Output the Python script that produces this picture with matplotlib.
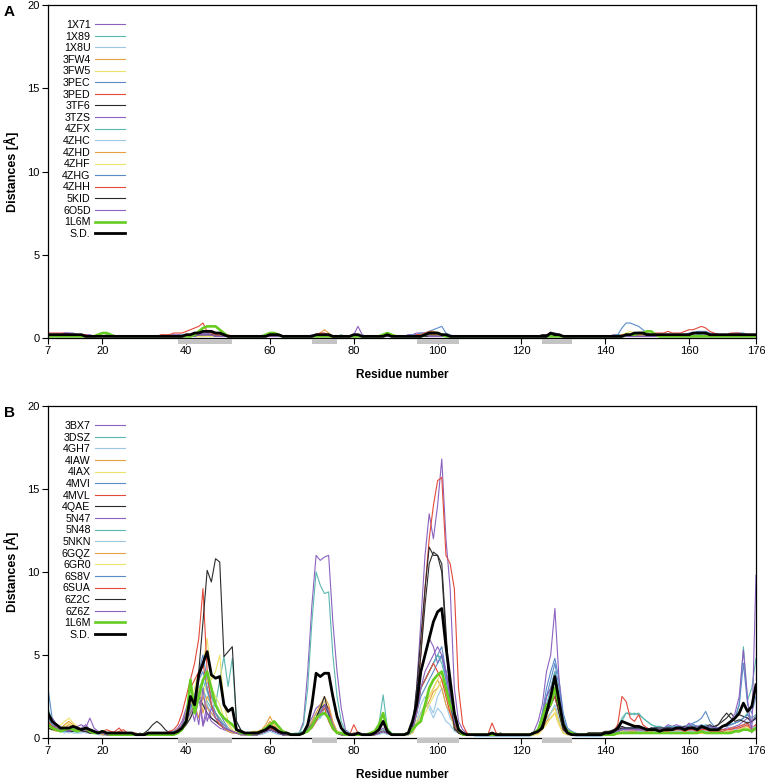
import matplotlib
matplotlib.use("Agg")
import matplotlib.pyplot as plt
from matplotlib.patches import Rectangle
import numpy as np

plt.rcParams['font.family'] = ['Liberation Sans', 'DejaVu Sans']

residues = np.arange(7, 177)
x_ticks = [7, 20, 40, 60, 80, 100, 120, 140, 160, 176]
y_ticks = [0, 5, 10, 15, 20]
# grey boxes under the x axis (start, end residue)
regions = [(38, 51), (70, 76), (95, 105), (125, 132)]

cycle = ['#8c62c0', '#5bb8b0', '#9cc8e6', '#e6a040', '#ece36a', '#5b8cc8', '#e34a3a', '#2b2b2b']

# ---- panel A, distances in tenths of an angstrom, residues 7..176 ----
A_names = ['1X71', '1X89', '1X8U', '3FW4', '3FW5', '3PEC', '3PED', '3TF6', '3TZS',
           '4ZFX', '4ZHC', '4ZHD', '4ZHF', '4ZHG', '4ZHH', '5KID', '6O5D']
A_1X71 = [2,2,2,2,3,3,3,2,2,2, 2,1,1,1,2,1,1,1,1,1, 1,1,1,1,1,1,1,1,1,2, 2,2,2,2,2,3,3,3,3,3, 2,2,2,1,1,1,1,1,1,1, 1,1,2,2,2,1,1,1,1,1, 1,1,1,2,2,2,2,2,1,1, 1,1,1,1,2,1,1,1,1,1, 1,1,1,1,1,1,2,2,3,3,
          3,3,3,3,2,2,1,1,1,1, 1,1,1,1,1,1,1,1,1,1, 1,1,1,1,1,1,1,1,2,2, 2,2,1,1,1,1,1,1,1,1, 1,1,1,1,1,2,2,2,2,2, 2,2,2,1,1,2,2,2,2,2, 2,2,2,2,2,3,3,2,2,1, 1,2,2,2,2,2,2,2,2,2]
A_1X89 = [2,1,1,1,2,1,1,2,1,1, 1,1,1,1,1,1,1,1,1,1, 1,1,1,1,1,1,1,1,1,1, 1,1,2,2,2,2,2,2,2,2, 2,2,1,1,1,1,1,1,1,1, 1,1,1,2,1,1,1,1,1,1, 1,1,1,1,2,2,2,1,1,1, 1,1,1,1,1,1,1,1,1,1, 1,1,1,1,1,1,1,2,2,2,
          2,3,3,3,2,2,1,1,1,1, 1,1,1,1,1,1,1,1,1,1, 1,1,1,1,1,1,1,1,1,1, 2,2,1,1,1,1,1,1,1,1, 1,1,1,1,1,1,2,2,2,2, 2,2,2,1,1,1,1,1,1,1, 1,1,1,1,1,2,2,1,1,1, 1,1,1,1,1,2,2,2,1,1]
A_1X8U = [1,1,1,1,1,1,1,1,1,1, 1,1,1,1,1,1,1,1,1,1, 1,1,1,1,1,1,1,1,1,1, 1,1,1,1,1,2,2,2,2,1, 1,1,1,1,1,1,1,1,1,1, 1,1,1,1,1,1,1,1,1,1, 1,1,1,1,1,1,1,1,1,1, 1,1,1,1,1,1,1,1,1,1, 1,1,1,1,1,1,1,1,1,2,
          2,2,2,2,1,1,1,1,1,1, 1,1,1,1,1,1,1,1,1,1, 1,1,1,1,1,1,1,1,1,1, 1,1,1,1,1,1,1,1,1,1, 1,1,1,1,1,1,1,1,2,2, 2,2,1,1,1,1,1,1,1,1, 1,1,1,1,1,1,1,1,1,1, 1,1,1,1,1,1,1,1,1,1]
A_3FW4 = [2,2,2,2,2,2,2,2,2,1, 1,1,1,1,1,1,1,1,1,1, 1,1,1,1,1,1,1,1,1,1, 1,1,1,2,2,2,2,3,3,3, 2,2,1,1,1,1,1,1,1,1, 1,1,1,1,1,1,1,1,1,1, 1,1,1,1,2,3,5,3,1,1, 1,1,1,1,1,1,1,1,1,1, 1,1,1,1,1,1,1,1,1,2,
          2,2,2,2,2,1,1,1,1,1, 1,1,1,1,1,1,1,1,1,1, 1,1,1,1,1,1,1,1,1,1, 2,1,1,1,1,1,1,1,1,1, 1,1,1,1,1,1,1,1,2,2, 2,2,1,1,1,1,1,1,1,1, 1,1,1,1,1,1,1,1,1,1, 1,1,1,2,2,2,2,2,1,1]
A_3FW5 = [1,1,1,1,1,1,1,1,1,1, 1,1,1,1,1,1,1,1,1,1, 1,1,1,1,1,1,1,1,1,1, 1,1,1,1,1,2,2,2,2,2, 2,1,1,1,1,1,1,1,1,1, 1,1,1,1,1,1,1,1,1,1, 1,1,1,1,1,1,2,2,1,1, 1,1,1,1,1,1,1,1,1,1, 1,1,1,1,1,1,1,1,1,1,
          2,2,2,2,1,1,1,1,1,1, 1,1,1,1,1,1,1,1,1,1, 1,1,1,1,1,1,1,1,1,1, 1,1,1,1,1,1,1,1,1,1, 1,1,1,1,1,1,1,2,3,4, 3,2,1,1,1,1,1,1,1,1, 1,1,1,1,1,1,1,1,1,1, 1,1,1,1,1,1,1,1,1,1]
A_3PEC = [1,1,1,1,1,1,1,1,1,1, 1,1,1,1,1,1,1,1,1,1, 1,1,1,1,1,1,1,1,1,1, 1,1,1,1,2,2,2,3,3,3, 2,1,1,1,1,1,1,1,1,1, 1,1,1,1,1,1,1,1,1,1, 1,1,1,1,1,2,2,2,1,1, 1,1,1,1,1,1,1,1,1,1, 1,1,1,1,1,1,1,2,2,3,
          3,4,5,6,7,3,2,1,1,1, 1,1,1,1,1,1,1,1,1,1, 1,1,1,1,1,1,1,1,1,1, 2,1,1,1,1,1,1,1,1,1, 1,1,1,1,1,1,1,1,1,1, 1,1,1,1,1,1,1,1,1,1, 1,1,1,1,1,1,1,1,1,1, 1,1,1,1,1,1,1,1,1,1]
A_3PED = [3,3,3,3,3,2,2,2,2,1, 1,1,1,1,1,1,1,1,1,1, 1,1,1,1,1,1,1,2,2,2, 3,3,3,4,5,6,7,9,4,3, 2,2,2,2,1,1,1,1,1,1, 1,1,1,1,1,1,1,1,1,1, 1,1,1,1,2,3,3,2,1,1, 1,1,1,1,1,1,1,1,1,1, 1,1,1,1,1,1,1,1,2,2,
          3,4,4,3,2,2,1,1,1,1, 1,1,1,1,1,1,1,1,1,1, 1,1,1,1,1,1,1,1,1,1, 3,2,1,1,1,1,1,1,1,1, 1,1,1,1,1,1,1,1,1,1, 1,1,1,1,1,1,1,1,1,1, 1,1,1,1,1,1,1,1,1,1, 1,1,1,1,1,1,1,1,1,1]
A_3TF6 = [2,2,2,2,2,1,1,1,1,1, 1,1,1,1,1,1,1,1,1,1, 1,1,1,1,1,1,1,1,1,1, 1,1,1,2,2,2,2,2,2,2, 2,1,1,1,1,1,1,1,1,1, 1,1,1,2,2,1,1,1,1,1, 1,1,1,1,1,2,2,1,1,1, 1,1,1,2,1,1,1,1,1,1, 1,1,1,1,1,1,1,1,1,1,
          2,2,2,1,1,1,1,1,1,1, 1,1,1,1,1,1,1,1,1,1, 1,1,1,1,1,1,1,1,2,2, 3,3,2,1,1,1,1,1,1,1, 1,1,1,1,1,1,1,1,1,1, 1,1,1,1,1,1,1,1,1,1, 1,1,1,1,1,1,1,1,1,1, 1,1,1,1,1,1,1,1,1,1]
A_3TZS = [2,2,2,2,3,3,2,2,2,2, 1,1,1,1,1,1,1,1,1,1, 1,1,1,1,1,1,1,1,1,1, 1,1,1,1,2,2,2,3,3,2, 2,1,1,1,1,1,1,1,1,1, 1,1,1,1,1,1,1,1,1,1, 1,1,1,1,1,2,2,1,1,1, 1,1,1,2,7,2,1,1,1,1, 1,1,1,1,1,1,1,1,1,1,
          2,2,1,1,1,1,1,1,1,1, 1,1,1,1,1,1,1,1,1,1, 1,1,1,1,1,1,1,1,1,1, 1,1,1,1,1,1,1,1,1,1, 1,1,1,1,1,1,1,1,1,1, 1,1,1,1,1,1,1,1,1,1, 1,1,1,1,1,1,1,1,1,1, 1,1,1,1,1,1,1,1,1,1]
A_4ZFX = [1,1,1,1,1,1,1,1,1,1, 1,1,1,1,1,1,1,1,1,1, 1,1,1,1,1,1,1,1,1,1, 1,1,1,1,1,1,1,2,2,2, 2,1,1,1,1,1,1,1,1,1, 1,1,1,1,1,1,1,1,1,1, 1,1,1,1,1,1,1,1,1,1, 2,1,1,1,1,1,1,1,1,1, 1,1,1,1,1,1,1,1,1,1,
          2,2,1,1,1,1,1,1,1,1, 1,1,1,1,1,1,1,1,1,1, 1,1,1,1,1,1,1,1,1,1, 1,1,1,1,1,1,1,1,1,1, 1,1,1,1,1,1,2,2,2,2, 2,2,1,1,1,1,1,1,1,1, 1,1,1,1,1,1,1,1,1,1, 1,1,1,1,1,1,1,1,1,1]
A_4ZHC = [1,1,1,1,1,1,1,1,1,1, 1,1,1,1,1,1,1,1,1,1, 1,1,1,1,1,1,1,1,1,1, 1,1,1,1,1,1,1,1,2,2, 1,1,1,1,1,1,1,1,1,1, 1,1,1,1,1,1,1,1,1,1, 1,1,1,1,1,1,1,1,1,1, 1,1,1,1,1,1,1,1,1,1, 1,1,1,1,1,1,1,1,1,1,
          1,1,1,1,1,1,1,1,1,1, 1,1,1,1,1,1,1,1,1,1, 1,1,1,1,1,1,1,1,1,1, 1,1,1,1,1,1,1,1,1,1, 1,1,1,1,1,1,1,1,1,1, 1,1,1,1,1,1,1,1,1,1, 1,1,1,1,1,1,1,1,1,1, 1,1,1,1,1,1,1,1,1,1]
A_4ZHD = [1,1,1,1,1,1,1,1,1,1, 1,1,1,1,1,1,1,1,1,1, 1,1,1,1,1,1,1,1,1,1, 1,1,1,1,1,1,2,2,2,2, 1,1,1,1,1,1,1,1,1,1, 1,1,1,1,1,1,1,1,1,1, 1,1,1,1,1,2,2,2,1,1, 1,1,1,1,1,1,1,1,1,1, 1,1,1,1,1,1,1,1,1,1,
          2,2,1,1,1,1,1,1,1,1, 1,1,1,1,1,1,1,1,1,1, 1,1,1,1,1,1,1,1,1,1, 1,1,1,1,1,1,1,1,1,1, 1,1,1,1,1,1,1,1,1,1, 1,1,1,1,1,1,1,1,1,1, 1,1,1,1,1,1,1,1,1,1, 1,1,1,1,1,1,1,1,1,1]
A_4ZHF = [1,1,1,1,1,1,1,1,1,1, 1,1,1,1,1,1,1,1,1,1, 1,1,1,1,1,1,1,1,1,1, 1,1,1,1,1,1,1,1,1,1, 1,1,1,1,1,1,1,1,1,1, 1,1,1,1,1,1,1,1,1,1, 1,1,1,1,1,1,1,1,1,1, 1,1,1,1,1,1,1,1,1,1, 1,1,1,1,1,1,1,1,1,1,
          1,1,1,1,1,1,1,1,1,1, 1,1,1,1,1,1,1,1,1,1, 1,1,1,1,1,1,1,1,1,1, 1,1,1,1,1,1,1,1,1,1, 1,1,1,1,1,1,1,2,2,2, 2,2,1,1,1,1,1,1,1,1, 1,1,1,1,1,1,1,1,1,1, 1,1,1,1,1,1,1,1,1,1]
A_4ZHG = [1,1,1,1,1,1,1,1,1,1, 1,1,1,1,1,1,1,1,1,1, 1,1,1,1,1,1,1,1,1,1, 1,1,1,1,1,2,2,2,2,2, 1,1,1,1,1,1,1,1,1,1, 1,1,1,1,1,1,1,1,1,1, 1,1,1,1,1,1,1,1,1,1, 1,1,1,1,1,1,1,1,1,1, 1,1,1,1,1,1,1,1,1,1,
          1,2,1,1,1,1,1,1,1,1, 1,1,1,1,1,1,1,1,1,1, 1,1,1,1,1,1,1,1,1,1, 1,1,1,1,1,1,1,1,1,1, 1,1,1,1,1,1,2,6,9,9, 8,7,5,3,2,2,2,2,2,2, 2,2,2,3,3,4,4,4,3,2, 2,2,2,2,3,3,3,2,2,2]
A_4ZHH = [2,2,2,2,2,2,2,2,2,2, 1,1,1,1,1,1,1,1,1,1, 1,1,1,1,1,1,1,1,1,1, 1,1,1,1,1,2,2,2,2,2, 2,1,1,1,1,1,1,1,1,1, 1,1,1,1,1,1,1,1,1,1, 1,1,1,1,1,1,1,1,1,1, 1,1,1,1,1,1,1,1,1,1, 1,1,1,1,1,1,1,1,1,1,
          2,2,2,2,2,1,1,1,1,1, 1,1,1,1,1,1,1,1,1,1, 1,1,1,1,1,1,1,1,1,1, 1,1,1,1,1,1,1,1,1,1, 1,1,1,1,1,1,1,2,2,2, 2,2,2,3,2,3,3,3,4,3, 3,3,4,5,5,6,7,6,4,3, 2,2,2,3,3,3,2,2,2,2]
A_5KID = [1,1,1,1,1,1,1,1,1,1, 1,1,1,1,1,1,1,1,1,1, 1,1,1,1,1,1,1,1,1,1, 1,1,1,1,1,1,2,2,2,2, 1,1,1,1,1,1,1,1,1,1, 1,1,1,1,1,1,1,1,1,1, 1,1,1,1,1,1,1,1,1,1, 1,1,1,1,1,1,1,1,1,1, 1,1,1,1,1,1,1,1,1,1,
          1,1,1,1,1,1,1,1,1,1, 1,1,1,1,1,1,1,1,1,1, 1,1,1,1,1,1,1,1,1,1, 2,2,1,1,1,1,1,1,1,1, 1,1,1,1,1,1,1,1,1,1, 1,1,1,1,1,1,1,1,1,1, 1,1,1,1,1,1,1,1,1,1, 1,1,1,1,1,1,1,1,1,1]
A_6O5D = [1,1,1,1,1,1,1,1,1,1, 1,1,1,1,1,1,1,1,1,1, 1,1,1,1,1,1,1,1,1,1, 1,1,1,1,1,1,2,2,2,2, 1,1,1,1,1,1,1,1,1,1, 1,1,1,1,1,1,1,1,1,1, 1,1,1,1,1,1,1,1,1,1, 1,1,1,1,1,1,1,1,1,1, 1,1,1,1,1,1,1,1,1,1,
          2,1,1,1,1,1,1,1,1,1, 1,1,1,1,1,1,1,1,1,1, 1,1,1,1,1,1,1,1,1,1, 1,1,1,1,1,1,1,1,1,1, 1,1,1,1,1,1,1,1,1,1, 1,1,1,1,1,1,1,1,1,1, 1,1,1,1,1,1,1,1,1,1, 1,1,1,1,1,1,1,1,1,2]
A_1L6M = [1,1,1,1,1,1,1,1,1,1, 1,1,2,3,3,2,1,1,1,1, 1,1,1,1,1,1,1,1,1,1, 1,1,1,1,1,2,4,6,7,7, 7,5,3,1,1,1,1,1,1,1, 1,1,2,3,3,2,1,1,1,1, 1,1,1,1,1,1,1,1,1,1, 1,1,1,1,1,1,1,1,1,1, 2,3,2,1,1,1,1,1,1,1,
          2,3,3,3,2,1,1,1,1,1, 1,1,1,1,1,1,1,1,1,1, 1,1,1,1,1,1,1,1,1,1, 1,1,1,1,1,1,1,1,1,1, 1,1,1,1,1,1,1,1,2,2, 2,3,3,4,4,2,1,1,1,1, 1,1,1,1,1,1,1,1,1,1, 1,1,1,1,1,1,1,1,1,1]
A_SD = [2,2,2,2,2,2,2,2,2,1, 1,1,1,1,1,1,1,1,1,1, 1,1,1,1,1,1,1,1,1,1, 1,1,1,2,2,3,3,4,4,4, 3,3,2,1,1,1,1,1,1,1, 1,1,1,2,2,2,1,1,1,1, 1,1,1,1,2,2,2,2,1,1, 1,1,1,2,2,1,1,1,1,1, 1,2,1,1,1,1,1,1,1,1,
        2,3,3,3,2,2,1,1,1,1, 1,1,1,1,1,1,1,1,1,1, 1,1,1,1,1,1,1,1,1,1, 3,2,2,1,1,1,1,1,1,1, 1,1,1,1,1,1,1,1,2,2, 3,3,3,2,2,2,2,2,2,2, 2,2,2,2,3,3,3,3,2,2, 2,2,2,2,2,2,2,2,2,2]

# ---- panel B, distances in tenths of an angstrom ----
B_names = ['3BX7', '3DSZ', '4GH7', '4IAW', '4IAX', '4MVI', '4MVL', '4QAE', '5N47',
           '5N48', '5NKN', '6GQZ', '6GR0', '6S8V', '6SUA', '6Z2C', '6Z6Z']
B_3BX7 = [14,12,8,5,4,6,5,4,6,8, 5,4,3,4,3,2,3,2,2,3, 2,2,3,2,2,2,3,3,3,4, 4,6,10,18,25,15,30,8,20,12, 10,8,6,5,4,3,3,2,2,3, 3,4,5,6,4,3,2,3,2,2, 3,4,8,12,18,20,22,15,8,4, 3,2,2,3,2,2,2,3,3,4, 6,3,2,2,2,2,3,6,30,70,
          110,135,120,140,168,120,90,30,10,5, 3,2,2,2,2,2,2,3,2,2, 2,2,2,2,2,2,3,4,15,25, 30,40,20,6,4,3,2,2,2,2, 2,2,2,3,3,4,5,6,5,5, 5,4,4,4,5,4,5,4,5,5, 6,5,6,5,5,6,5,6,5,5, 5,5,6,6,7,8,10,12,9,14]
B_3DSZ = [18,10,6,4,5,4,6,5,4,5, 4,4,3,3,3,2,2,2,3,2, 2,2,2,2,2,2,3,3,3,3, 4,5,8,15,20,18,25,30,22,18, 20,35,49,31,48,10,5,3,3,2, 3,4,5,7,6,4,3,2,2,3, 3,4,6,10,15,12,18,14,8,4, 3,3,2,2,3,2,2,3,3,8, 26,6,3,2,2,2,2,4,15,30,
          35,40,45,50,48,40,30,15,6,3, 2,2,2,2,2,2,2,2,2,2, 2,2,2,2,2,2,3,4,10,20, 25,35,20,8,4,3,2,2,2,2, 2,2,2,3,3,4,6,10,15,15, 14,15,12,10,8,7,6,6,7,6, 6,7,6,6,7,6,7,8,7,6, 6,7,8,9,12,20,55,23,30,48]
B_4GH7 = [10,8,5,4,3,4,3,3,4,3, 3,3,2,2,2,2,2,2,2,2, 2,2,2,2,2,2,2,2,2,3, 3,4,6,10,15,20,25,30,35,25, 15,10,8,6,4,3,2,2,2,2, 2,3,4,5,4,3,2,2,2,2, 2,3,5,8,12,15,18,14,6,3, 2,2,2,2,2,2,2,2,2,3, 4,3,2,2,2,2,2,3,10,20,
          25,20,15,25,30,20,12,8,4,2, 2,2,2,2,2,1,1,1,1,1, 1,1,1,2,2,2,2,3,8,15, 20,25,15,5,3,2,2,2,1,1, 1,1,2,2,2,3,3,4,5,5, 5,5,4,4,4,5,4,4,4,5, 5,4,5,5,4,5,5,4,4,4, 4,5,5,6,6,7,8,10,6,8]
B_4IAW = [8,6,5,6,8,10,8,6,5,4, 4,3,3,3,2,2,2,2,2,2, 2,2,2,2,2,2,2,2,2,2, 3,4,6,12,20,25,30,15,25,20, 15,12,8,5,4,3,3,2,3,4, 4,5,8,13,8,5,3,2,2,2, 2,3,5,10,15,20,25,20,10,4, 3,2,2,2,2,2,2,2,2,3, 4,3,2,2,2,2,3,4,8,15,
          20,25,30,35,30,20,15,8,4,2, 2,2,2,2,2,2,2,2,2,2, 2,2,2,2,2,2,2,3,8,12, 15,18,10,4,3,2,2,2,2,2, 2,2,2,2,2,2,3,3,4,4, 4,4,3,3,4,3,3,3,4,3, 3,3,4,3,3,4,3,3,3,4, 4,3,4,4,5,5,6,7,5,6]
B_4IAX = [9,7,6,8,10,12,9,7,5,5, 4,4,3,3,3,2,2,2,2,2, 2,2,2,2,2,2,2,2,2,2, 2,3,5,10,18,30,40,45,60,35, 40,50,20,10,5,3,3,2,2,3, 3,4,6,10,7,4,3,2,2,2, 2,3,4,8,12,18,22,18,8,4, 3,2,2,2,2,2,2,2,2,3, 5,3,2,2,2,2,2,3,10,15,
          20,25,30,35,40,30,20,10,4,2, 2,2,2,2,2,2,2,2,2,2, 2,2,2,2,2,2,2,3,6,10, 15,18,10,4,2,2,2,2,2,2, 2,2,2,2,2,3,3,4,5,6, 8,6,4,4,3,3,3,3,3,3, 3,3,3,4,3,3,3,3,3,3, 3,3,4,4,4,5,6,6,5,8]
B_4MVI = [30,12,8,6,5,4,5,4,4,4, 3,3,3,3,2,2,2,2,2,2, 2,2,2,2,2,2,2,2,2,3, 3,4,6,10,15,25,40,50,35,25, 20,15,10,6,4,3,3,2,2,2, 2,3,4,5,4,3,2,2,2,2, 2,3,5,8,12,15,20,15,6,3, 2,2,2,2,2,2,2,2,2,3, 4,3,2,2,2,2,2,4,15,30,
          35,40,45,50,55,40,25,10,4,2, 2,2,2,2,2,2,2,2,2,2, 2,2,2,2,2,2,3,5,15,30, 40,48,35,15,6,4,3,2,2,2, 2,2,2,2,3,3,4,5,6,6, 6,5,5,5,5,6,5,5,6,6, 6,7,7,8,9,10,12,16,10,7, 6,7,8,10,12,20,45,20,15,25]
B_4MVL = [12,8,6,5,5,6,5,4,4,5, 4,3,3,4,5,4,3,4,5,3, 3,3,2,2,2,2,2,2,2,3, 3,5,8,15,30,35,40,45,30,20, 15,10,8,6,4,3,3,2,2,2, 2,3,4,6,5,3,2,2,2,2, 2,3,4,6,10,15,20,18,8,3, 2,2,2,8,3,2,2,2,2,3, 4,3,2,2,2,2,3,5,20,50,
          90,120,140,155,157,110,105,90,30,8, 3,2,2,2,2,2,9,3,2,2, 2,2,2,2,2,2,3,4,10,20, 25,30,18,6,3,2,2,2,2,2, 2,2,2,2,3,3,4,5,5,5, 5,5,4,4,5,4,4,5,5,4, 5,5,4,5,5,4,5,5,5,4, 4,5,5,6,6,7,8,9,6,8]
B_4QAE = [8,6,5,5,6,5,4,4,5,4, 3,3,3,2,2,2,3,3,2,2, 2,2,2,3,5,8,10,8,5,3, 3,4,6,10,15,20,25,20,15,12, 10,8,6,5,4,3,2,2,2,2, 2,3,4,5,4,3,2,2,2,2, 2,3,5,8,12,18,25,15,6,3, 2,2,2,2,2,2,2,2,2,3, 4,3,2,2,2,2,3,6,30,60,
          90,115,110,110,100,60,20,5,3,2, 2,2,2,2,2,2,2,2,3,2, 2,2,2,2,2,2,3,4,8,15, 20,25,15,5,3,2,2,2,2,3, 3,3,3,4,4,5,6,7,6,6, 6,6,5,5,6,5,5,6,6,6, 6,7,6,6,7,6,6,7,8,6, 8,10,12,15,12,14,13,12,10,12]
B_5N47 = [10,12,8,6,5,5,6,7,8,6, 12,6,4,3,3,2,2,3,2,2, 2,2,2,2,2,2,2,2,2,3, 3,4,8,15,20,10,25,7,15,10, 8,6,5,4,3,3,2,2,2,2, 2,3,4,5,4,3,2,2,2,2, 3,10,40,80,110,107,109,110,70,40, 18,5,3,2,2,2,2,2,2,3, 4,3,2,2,2,2,3,5,20,40,
          50,60,55,45,50,40,25,10,4,2, 2,2,2,2,2,2,2,2,2,2, 2,2,2,2,2,2,4,10,20,40, 50,78,35,10,5,3,2,2,2,2, 2,2,2,2,3,3,4,5,5,6, 6,5,5,6,5,6,7,6,8,7, 8,7,6,7,8,7,6,7,6,7, 6,7,8,8,9,10,12,14,10,12]
B_5N48 = [12,8,6,5,4,5,4,4,5,4, 4,3,3,3,3,2,2,2,2,2, 2,2,2,2,2,2,2,2,2,3, 3,4,7,12,18,22,30,35,28,20, 15,12,8,5,4,3,3,2,2,2, 2,3,4,5,4,3,2,2,2,2, 3,8,30,70,100,92,87,88,50,25, 10,4,3,2,2,2,2,2,2,3, 5,3,2,2,2,2,3,4,15,30,
          35,40,45,50,45,35,20,8,3,2, 2,2,2,2,2,2,2,2,2,2, 2,2,2,2,2,2,3,4,10,20, 30,40,25,8,4,3,2,2,2,2, 2,2,2,3,3,4,6,12,15,14, 15,14,12,10,8,7,7,6,7,7, 7,6,7,8,7,6,7,7,6,6, 6,7,7,8,9,10,12,15,12,14]
B_5NKN = [8,6,5,4,4,3,4,3,3,4, 3,3,2,2,2,2,2,2,2,2, 2,2,2,2,2,2,2,2,2,2, 2,3,5,8,12,18,22,25,20,15, 12,10,8,6,4,3,2,2,2,2, 2,2,3,4,3,2,2,2,2,2, 2,3,4,6,10,12,15,12,6,3, 2,2,2,2,2,2,2,2,2,2, 3,2,2,2,2,2,2,3,8,15,
          20,18,12,18,15,10,8,4,3,2, 2,2,1,1,1,1,1,1,1,1, 1,1,1,1,1,1,2,3,6,10, 15,20,12,4,2,2,1,1,1,1, 1,1,1,2,2,2,3,3,4,4, 4,4,4,3,3,4,4,3,3,4, 4,4,3,4,4,3,4,4,3,4, 4,4,5,5,5,6,7,8,6,7]
B_6GQZ = [6,5,4,5,6,8,7,5,4,4, 3,3,3,2,2,2,2,2,2,2, 2,2,2,2,2,2,2,2,2,2, 2,3,5,10,15,20,12,25,18,15, 12,10,6,4,3,3,2,2,2,3, 3,4,6,10,6,4,3,2,2,2, 2,3,4,8,12,15,20,16,8,3, 2,2,2,2,2,2,2,2,2,3, 4,3,2,2,2,2,2,3,8,12,
          18,22,28,30,35,28,18,8,3,2, 2,2,2,2,2,2,2,2,2,2, 2,2,2,2,2,2,2,3,5,10, 12,15,8,3,2,2,2,2,2,2, 2,2,2,2,2,2,3,3,3,4, 4,3,3,3,3,3,3,3,3,3, 3,3,3,3,3,3,3,3,3,3, 3,3,3,4,4,4,5,5,4,5]
B_6GR0 = [7,6,5,6,7,9,7,5,4,4, 4,3,3,3,2,2,2,2,2,2, 2,2,2,2,2,2,2,2,2,2, 2,3,5,8,15,22,30,25,35,30, 25,20,12,8,5,3,3,2,2,2, 2,3,5,8,6,4,3,2,2,2, 2,3,4,8,12,16,20,14,6,3, 2,2,2,2,2,2,2,2,2,3, 4,3,2,2,2,2,2,3,8,12,
          15,20,25,30,35,25,15,6,3,2, 2,2,2,2,2,2,2,2,2,2, 2,2,2,2,2,2,2,2,5,8, 12,15,8,3,2,2,2,2,2,2, 2,2,2,2,2,2,2,3,3,3, 3,3,3,3,3,3,3,3,3,3, 3,3,3,3,3,3,3,3,3,3, 3,3,3,3,4,4,5,5,4,6]
B_6S8V = [15,8,6,5,4,4,5,4,4,4, 3,3,3,3,2,2,2,2,2,2, 2,2,2,2,2,2,2,2,2,3, 3,4,6,10,18,25,35,40,30,20, 15,10,8,5,4,3,3,2,2,2, 2,3,4,5,4,3,2,2,2,2, 2,3,5,8,12,16,20,14,6,3, 2,2,2,2,2,2,2,2,2,3, 4,3,2,2,2,2,2,4,15,25,
          30,35,40,45,50,35,20,8,3,2, 2,2,2,2,2,2,2,2,2,2, 2,2,2,2,2,2,3,5,12,25, 35,45,30,12,5,3,2,2,2,2, 2,2,2,2,3,3,4,5,6,6, 6,6,5,5,6,6,5,6,7,6, 7,6,7,7,8,7,8,7,7,6, 6,7,7,8,9,10,12,14,10,12]
B_6SUA = [10,7,6,5,5,4,5,4,4,4, 4,3,3,3,3,3,4,6,3,2, 2,2,2,2,2,2,2,3,3,4, 5,8,15,25,35,45,60,90,40,20, 12,8,6,5,4,3,3,2,2,2, 2,3,4,6,5,3,2,2,2,2, 2,3,4,6,10,15,18,10,5,3, 2,2,2,3,2,2,2,2,2,3, 4,3,2,2,2,2,3,5,15,30,
          35,40,45,40,35,25,15,8,3,2, 2,2,2,2,2,2,2,2,2,2, 2,2,2,2,2,2,3,4,8,15, 20,25,15,5,3,2,2,2,2,2, 2,2,2,3,3,4,8,25,22,12, 10,14,8,6,5,5,5,4,4,5, 5,5,4,5,5,4,5,5,4,4, 4,4,5,5,6,6,7,8,5,6]
B_6Z2C = [6,5,5,4,5,4,4,5,4,4, 3,3,3,3,2,2,2,3,2,2, 2,2,2,2,2,2,2,2,2,2, 2,3,5,8,12,18,40,70,101,94, 108,106,49,52,55,10,5,3,2,2, 2,3,4,5,4,3,2,2,2,2, 2,3,4,8,12,18,20,15,6,3, 2,2,2,2,2,2,2,2,2,3, 4,3,2,2,2,2,3,5,25,50,
          80,105,112,110,105,65,25,6,3,2, 2,2,2,2,2,2,2,2,2,2, 2,2,2,2,2,2,3,4,8,15, 20,28,15,5,3,2,2,2,2,3, 3,3,3,3,4,4,5,6,6,6, 6,6,6,5,6,6,6,6,6,6, 6,6,7,6,6,7,6,6,7,7, 8,12,15,12,10,11,10,9,10,12]
B_6Z6Z = [12,10,6,5,5,4,5,4,4,5, 4,3,3,3,2,2,2,2,2,2, 2,2,2,2,2,2,2,2,2,2, 2,3,5,10,15,20,8,30,10,18, 12,10,6,5,4,3,2,2,2,2, 2,3,4,5,4,3,2,2,2,2, 2,3,5,8,12,15,20,16,8,3, 2,2,2,2,2,2,2,2,2,3, 4,3,2,2,2,2,3,5,15,30,
          40,45,50,55,50,40,25,10,4,2, 2,2,2,2,2,2,2,2,2,2, 2,2,2,2,2,2,3,5,12,25, 30,35,20,8,4,3,2,2,2,2, 2,2,2,3,3,3,4,5,5,5, 5,5,5,5,5,5,5,6,5,6, 6,5,6,9,6,7,6,6,7,6, 6,7,8,10,15,25,53,23,3,98]
B_1L6M = [8,6,5,4,5,6,5,4,5,6, 4,3,3,4,3,2,2,2,2,2, 2,2,2,2,2,2,2,2,2,2, 2,3,5,10,35,15,25,35,40,30, 20,15,12,10,8,5,3,3,2,3, 3,4,6,8,10,7,4,3,2,2, 2,3,4,7,12,14,15,12,6,3, 3,2,2,2,2,2,2,3,4,8, 15,5,2,2,2,2,3,5,8,10,
          20,30,35,38,40,30,20,15,5,2, 2,2,2,2,2,2,2,2,2,2, 2,2,2,2,2,2,3,5,12,20, 20,30,20,8,4,3,2,2,2,2, 2,2,2,2,2,2,3,3,3,3, 3,3,3,3,3,3,3,3,3,3, 3,3,3,3,3,3,4,3,3,3, 3,3,3,3,4,4,5,5,4,6]
B_SD = [15,10,8,6,6,6,7,6,5,6, 5,4,3,4,3,3,3,3,3,3, 3,2,2,2,3,3,3,3,3,3, 3,4,6,10,25,20,38,45,52,38, 36,37,20,16,18,5,4,3,3,3, 3,4,5,7,6,4,3,3,2,2, 2,3,8,20,39,37,39,39,25,13, 6,3,2,2,3,2,2,2,3,5, 10,4,2,2,2,2,3,10,20,40,
        50,60,70,76,78,55,35,15,5,3, 2,2,2,2,2,2,3,2,2,2, 2,2,2,2,2,2,3,4,6,15, 25,37,22,8,3,2,2,2,2,2, 2,2,2,3,3,4,6,10,9,8, 7,7,6,5,5,5,4,5,5,5, 6,6,5,6,6,5,7,6,5,5, 5,7,8,10,12,15,21,16,19,32]

A_series = [A_1X71, A_1X89, A_1X8U, A_3FW4, A_3FW5, A_3PEC, A_3PED, A_3TF6, A_3TZS,
            A_4ZFX, A_4ZHC, A_4ZHD, A_4ZHF, A_4ZHG, A_4ZHH, A_5KID, A_6O5D]
B_series = [B_3BX7, B_3DSZ, B_4GH7, B_4IAW, B_4IAX, B_4MVI, B_4MVL, B_4QAE, B_5N47,
            B_5N48, B_5NKN, B_6GQZ, B_6GR0, B_6S8V, B_6SUA, B_6Z2C, B_6Z6Z]


def draw_panel(ax, names, series, ref, sd, letter):
    for i, (name, vals) in enumerate(zip(names, series)):
        ax.plot(residues, np.array(vals) / 10.0, color=cycle[i % len(cycle)], lw=0.8, label=name)
    ax.plot(residues, np.array(ref) / 10.0, color='#66cc22', lw=1.9, label='1L6M')
    ax.plot(residues, np.array(sd) / 10.0, color='black', lw=2.0, label='S.D.')
    ax.set_xlim(7, 176)
    ax.set_ylim(0, 20)
    ax.set_xticks(x_ticks)
    ax.set_yticks(y_ticks)
    ax.tick_params(direction='out', length=4, width=0.8, labelsize=8, pad=2)
    for sp in ax.spines.values():
        sp.set_linewidth(0.9)
    for start, end in regions:
        ax.add_patch(Rectangle((start, -0.33), end - start, 0.3, facecolor='#c4c4c4',
                               edgecolor='none', clip_on=False, zorder=4))
    ax.set_xlabel('Residue number', fontsize=8.5, fontweight='bold', labelpad=9)
    ax.set_ylabel('Distances [Å]', fontsize=9, fontweight='bold', labelpad=6)
    ax.legend(loc='upper right', bbox_to_anchor=(0.1086, 0.955), frameon=False,
              markerfirst=False, handlelength=2.8, handletextpad=0.4, labelspacing=0.15,
              borderpad=0, borderaxespad=0, fontsize=7.7)
    ax.text(-0.062, 1.0, letter, transform=ax.transAxes, fontsize=11, fontweight='bold',
            ha='left', va='top')


fig = plt.figure(figsize=(7.65, 7.83), dpi=100)
ax_a = fig.add_axes([0.0627, 0.5683, 0.9255, 0.4253])
ax_b = fig.add_axes([0.0627, 0.0575, 0.9255, 0.4240])
draw_panel(ax_a, A_names, A_series, A_1L6M, A_SD, 'A')
draw_panel(ax_b, B_names, B_series, B_1L6M, B_SD, 'B')
fig.savefig('out.png', dpi=100)
